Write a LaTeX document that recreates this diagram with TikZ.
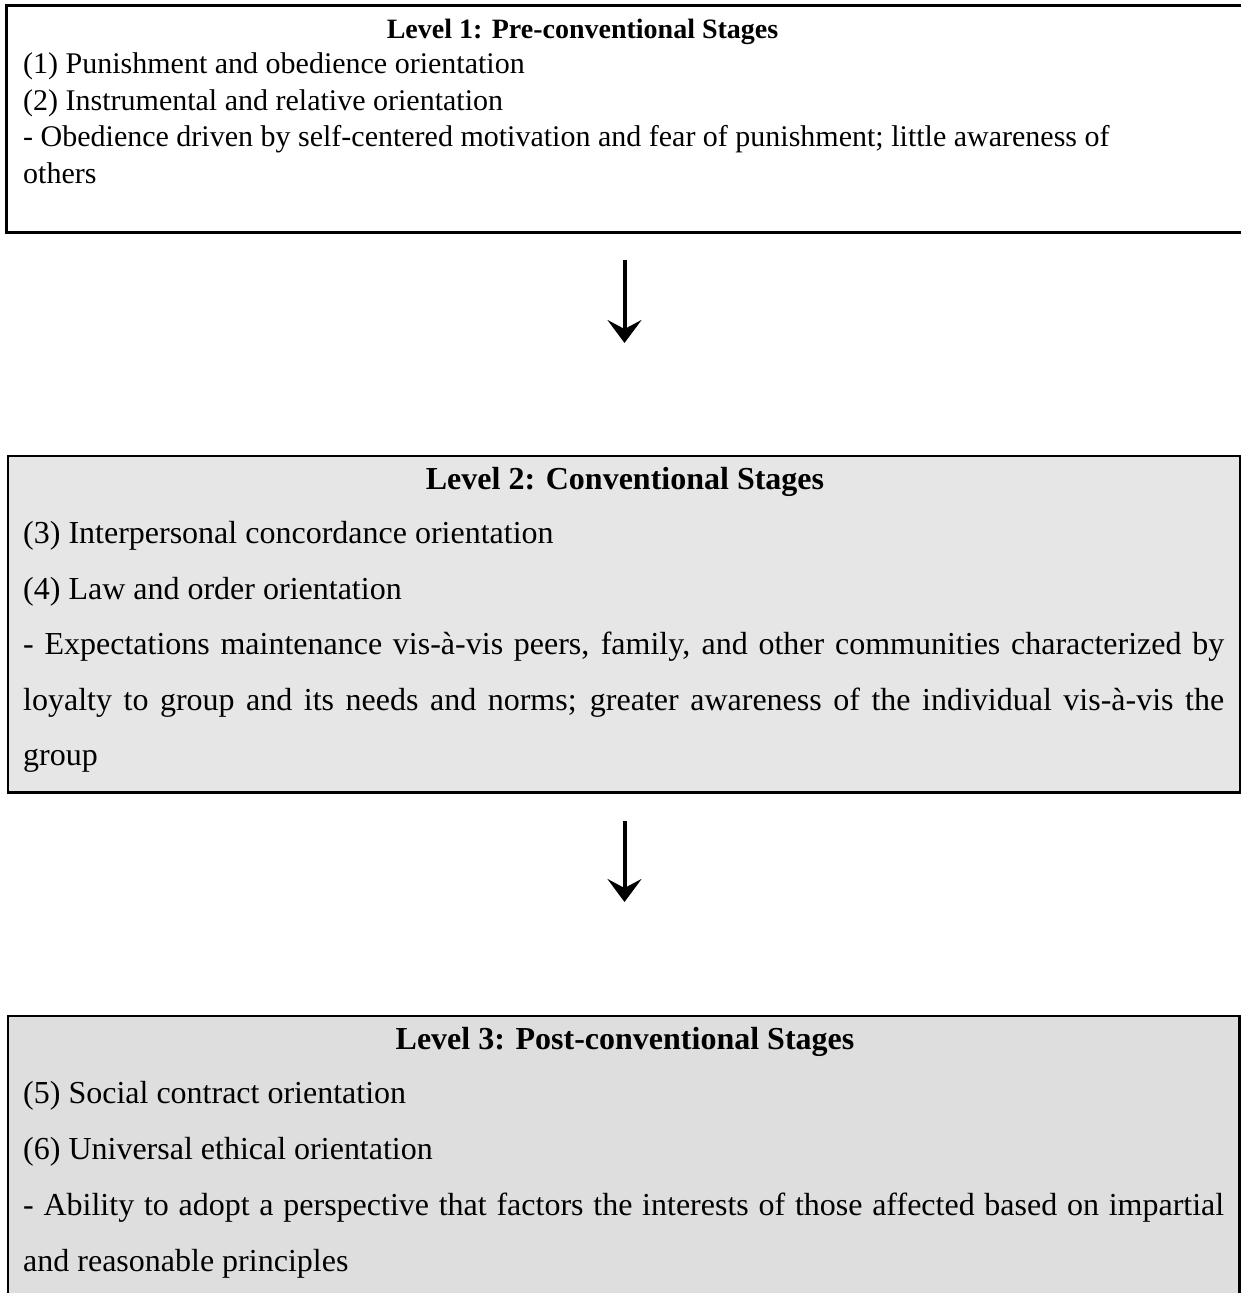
\documentclass[tikz,border=0pt]{standalone}
\usepackage{fontspec}
\setmainfont{Liberation Serif}
\usetikzlibrary{arrows.meta}
\definecolor{fillA}{RGB}{230,230,230}
\definecolor{fillB}{RGB}{222,222,222}
\begin{document}
\begin{tikzpicture}[x=1pt,y=-1pt,
  box/.style={draw, line width=2.7pt, inner sep=0pt, outer sep=0pt, anchor=north west},
  titleA/.style={inner sep=0pt, anchor=base, font=\fontsize{28}{34}\selectfont\bfseries},
  titleB/.style={inner sep=0pt, anchor=base, font=\fontsize{32}{38}\selectfont\bfseries},
  lineA/.style={inner sep=0pt, anchor=base west, font=\fontsize{30}{36}\selectfont},
  lineB/.style={inner sep=0pt, anchor=base west, font=\fontsize{32}{38}\selectfont},
  flow/.style={line width=4pt, -{Stealth[length=23pt,width=34pt,inset=9pt]}}]
\clip (0,0) rectangle (1241,1293);
\fill[white] (0,0) rectangle (1241,1293);
% boxes
\node[box, fill=white, minimum width=1280pt, minimum height=226.6pt] (b1) at (6.7,5.7) {};
\node[box, fill=fillA, minimum width=1232pt, minimum height=336.3pt] (b2) at (8,456) {};
\node[box, fill=fillB, minimum width=1231.6pt, minimum height=400pt] (b3) at (8,1016) {};
% box 1 text
\node[titleA] (t1) at (582.5,38) {Level 1: Pre-conventional Stages};
\node[lineA] (l11) at (23,73.5) {(1) Punishment and obedience orientation};
\node[lineA] (l12) at (23,110) {(2) Instrumental and relative orientation};
\node[lineA] (l13) at (23,146.5) {- Obedience driven by self-centered motivation and fear of punishment; little awareness of};
\node[lineA] (l14) at (23,183) {others};
% box 2 text
\node[titleB] (t2) at (625,489) {Level 2: Conventional Stages};
\node[lineB] (l21) at (23,543.5) {(3) Interpersonal concordance orientation};
\node[lineB] (l22) at (23,599) {(4) Law and order orientation};
\node[lineB] (l23) at (23,654.6) {\makebox[1201pt][s]{- Expectations maintenance vis-à-vis peers, family, and other communities characterized by}};
\node[lineB] (l24) at (23,710) {\makebox[1201pt][s]{loyalty to group and its needs and norms; greater awareness of the individual vis-à-vis the}};
\node[lineB] (l25) at (23,765.6) {group};
% box 3 text
\node[titleB] (t3) at (625,1049) {Level 3: Post-conventional Stages};
\node[lineB] (l31) at (23,1103) {(5) Social contract orientation};
\node[lineB] (l32) at (23,1159) {(6) Universal ethical orientation};
\node[lineB] (l33) at (23,1215) {\makebox[1201pt][s]{- Ability to adopt a perspective that factors the interests of those affected based on impartial}};
\node[lineB] (l34) at (23,1271) {and reasonable principles};
% arrows
\coordinate (a1s) at (624.5,260);
\coordinate (a1e) at (624.5,343);
\coordinate (a2s) at (624.5,821);
\coordinate (a2e) at (624.5,902);
\draw[flow] (a1s) -- (a1e);
\draw[flow] (a2s) -- (a2e);
\end{tikzpicture}
\end{document}
